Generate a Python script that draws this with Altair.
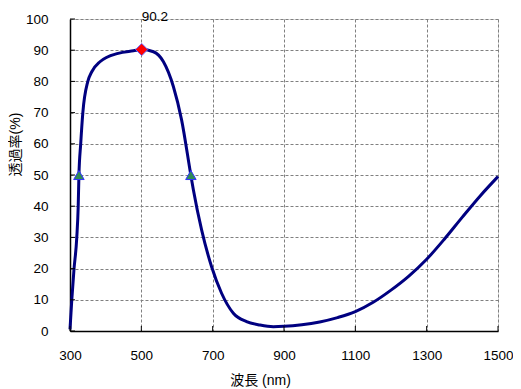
import altair as alt
import pandas as pd

# Spectrum data
wavelength = [300, 305, 311, 319, 323, 325, 330, 336, 350, 361, 384, 435, 478, 501,
              534, 562, 590, 613, 639, 646, 669, 697, 725, 758, 795, 833, 870, 900,
              950, 1000, 1050, 1100, 1150, 1200, 1250, 1300, 1350, 1400, 1450, 1500]
transmittance = [0.5, 10, 19.5, 30, 40, 49.8, 60, 70, 80, 83.1, 86.3, 89, 89.8, 90.2,
                 89.5, 86.3, 78.3, 67.6, 49.8, 45.2, 32.4, 20.6, 12.1, 5.7, 3.0, 1.9, 1.4, 1.5,
                 2.0, 2.9, 4.3, 6.2, 9.2, 13.1, 17.6, 23.0, 29.5, 36.5, 43.3, 49.5]

half_wl = [325, 639]
half_t = [50, 50]
peak_wl = [501]
peak_t = [90.2]
peak_label = ["90.2"]

x_ticks = [300, 500, 700, 900, 1100, 1300, 1500]
y_ticks = [0, 10, 20, 30, 40, 50, 60, 70, 80, 90, 100]

FONT = "Liberation Sans, Arial, Noto Sans CJK JP"

curve = pd.DataFrame({"wl": wavelength, "t": transmittance})
half = pd.DataFrame({"wl": half_wl, "t": half_t})
peak = pd.DataFrame({"wl": peak_wl, "t": peak_t, "label": peak_label})
xt = pd.DataFrame({"wl": x_ticks})
yt = pd.DataFrame({"t": y_ticks})

xscale = alt.Scale(domain=[300, 1500], nice=False, zero=False)
yscale = alt.Scale(domain=[0, 100], nice=False)

xaxis = alt.Axis(values=x_ticks, format="d", title="波長 (nm)", grid=True, gridDash=[3, 2],
                 gridColor="#808080", gridWidth=1, ticks=False, domainColor="#000000",
                 domainWidth=1.5, labelFont=FONT, labelFontSize=13.5, labelColor="#000000",
                 labelBaseline="middle", labelPadding=24, labelFlush=False, labelOverlap=False,
                 titleFont=FONT, titleFontSize=14, titleFontWeight="normal",
                 titleColor="#000000", titleX=190, titleY=49, titleAlign="center",
                 titleBaseline="middle", titleAnchor="start")
yaxis = alt.Axis(values=y_ticks, format="d", title="透過率(%)", grid=True, gridDash=[3, 2],
                 gridColor="#808080", gridWidth=1, ticks=False, domainColor="#000000",
                 domainWidth=1.5, labelFont=FONT, labelFontSize=13.5, labelColor="#000000",
                 labelPadding=22, labelFlush=False, labelOverlap=False,
                 titleFont=FONT, titleFontSize=14, titleFontWeight="normal",
                 titleColor="#000000", titleX=-55, titleY=125, titleAngle=270,
                 titleAlign="center", titleBaseline="middle", titleAnchor="start")

X = alt.X("wl:Q", scale=xscale, axis=xaxis)
Y = alt.Y("t:Q", scale=yscale, axis=yaxis)

line = alt.Chart(curve).mark_line(color="#000080", strokeWidth=3, interpolate="monotone").encode(
    x=X, y=Y)

xtick = alt.Chart(xt).mark_rule(color="#000000", strokeWidth=1).encode(
    x=X, y=alt.value(307), y2=alt.value(312))
ytick = alt.Chart(yt).mark_rule(color="#000000", strokeWidth=1).encode(
    y=Y, x=alt.value(0), x2=alt.value(5))

tri = alt.Chart(half).mark_point(shape="triangle-up", filled=True, size=110, fill="#2E8B57",
                                 stroke="#3333FF", strokeWidth=1, opacity=1).encode(x=X, y=Y)

dia = alt.Chart(peak).mark_point(shape="diamond", filled=True, size=150, fill="#FF0000",
                                 stroke="#6666FF", strokeWidth=1, opacity=1).encode(x=X, y=Y)

txt = alt.Chart(peak).mark_text(align="left", baseline="middle", dx=0, dy=-1.5,
                                font=FONT, fontSize=13.5, color="#000000").encode(
    x=X, y=alt.value(-1), text="label:N")

chart = alt.layer(line, ytick, xtick, tri, dia, txt).properties(
    width=428, height=312,
    autosize=alt.AutoSizeParams(type="none"),
    padding={"left": 62, "top": 11, "right": 15, "bottom": 62},
).configure_view(stroke="#808080", strokeWidth=1.5).configure(background="white")

chart.save("out.html", embed_options={"renderer": "svg", "actions": False})
